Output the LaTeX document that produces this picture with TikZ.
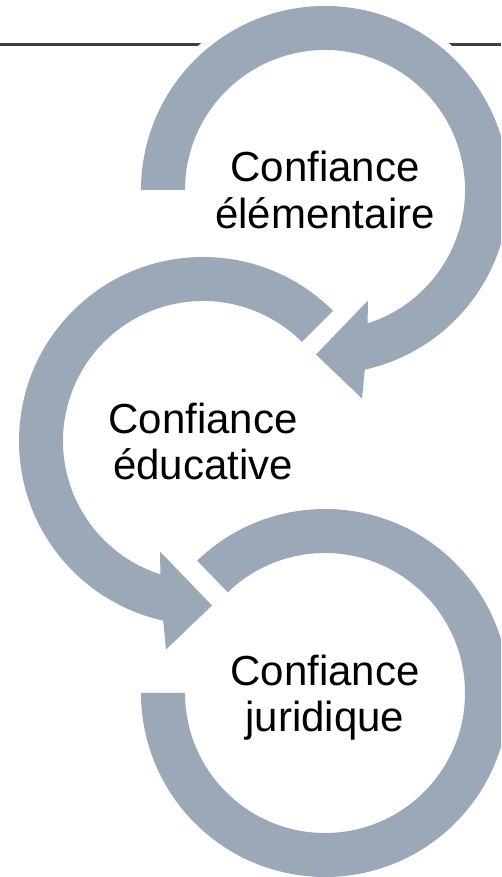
\documentclass[tikz,border=0pt]{standalone}
\usepackage{fontspec}
\newfontfamily\ringfont{Liberation Sans}[Ligatures=NoCommon]
\definecolor{ringgray}{RGB}{155,168,183}
\definecolor{rulegray}{RGB}{64,64,64}
\tikzset{
	ring/.style={fill=ringgray, preaction={draw=white, line width=16pt, line join=round}},
	ringlabel/.style={font=\ringfont\fontsize{42}{46}\selectfont, align=center, text=black},
}

\begin{document}
\begin{tikzpicture}[x=1pt, y=1pt]
			%%%%% START %%%%%
			\useasboundingbox (0, 0) rectangle (501, 877);
			\clip (0, 0) rectangle (501, 877);
			
			\coordinate (c1) at (325, 687);
			\coordinate (c2) at (203, 436);
			\coordinate (c3) at (325, 184);
			\coordinate (ruleleft) at (0, 832.5);
			\coordinate (ruleright) at (501, 832.5);
			
			\draw[line width=2.5pt, color=rulegray] (ruleleft) -- (ruleright);
			
			% top ring, arrow into the middle one
			\path[ring] ([shift={(180:184)}]c1) arc[start angle=180, end angle=-77.5, radius=184]
				-- ([shift={(37, -208.5)}]c1) -- ([shift={(-9, -164.5)}]c1) -- ([shift={(43, -110.5)}]c1)
				-- ([shift={(-72.3:140)}]c1) arc[start angle=-72.3, end angle=180, radius=140] -- cycle;
			
			% middle ring, arrow into the bottom one
			\path[ring] ([shift={(45:184)}]c2) arc[start angle=45, end angle=257.5, radius=184]
				-- ([shift={(-37, -208.5)}]c2) -- ([shift={(9, -164.5)}]c2) -- ([shift={(-43, -110.5)}]c2)
				-- ([shift={(252.3:140)}]c2) arc[start angle=252.3, end angle=45, radius=140] -- cycle;
			
			% bottom ring
			\path[ring] ([shift={(134:184)}]c3) arc[start angle=134, end angle=-180, radius=184]
				-- ([shift={(-180:140)}]c3) arc[start angle=-180, end angle=134, radius=140] -- cycle;
			
			\node[ringlabel] (elementaire) at (c1) {Confiance\\élémentaire};
			\node[ringlabel] (educative) at (c2) {Confiance\\éducative};
			\node[ringlabel, yshift=-5pt] (juridique) at (c3) {Confiance\\juridique};
			
			%%%%% END %%%%%
\end{tikzpicture}
\end{document}
